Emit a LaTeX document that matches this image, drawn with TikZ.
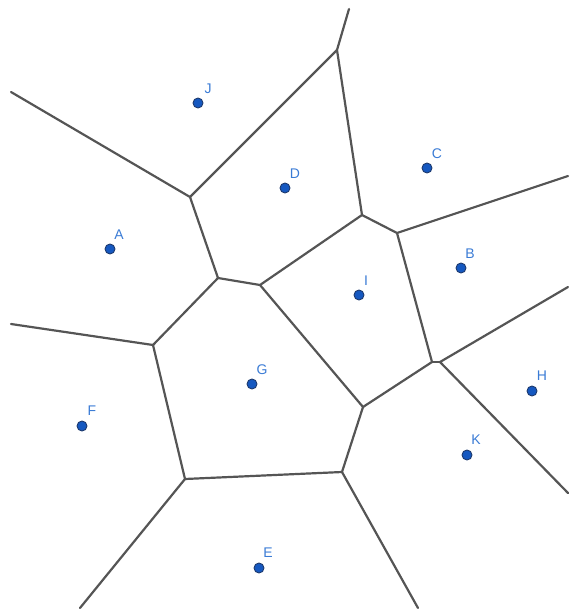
\documentclass[tikz,border=0pt]{standalone}
\usepackage{fontspec}
\setmainfont{Liberation Sans}
\definecolor{edgegray}{HTML}{555555}
\definecolor{dotblue}{HTML}{1558C0}
\definecolor{dotrim}{HTML}{1E3A6E}
\definecolor{lblblue}{HTML}{3A7BD5}
\tikzset{
  edge/.style={draw=edgegray, line width=2.2pt, line cap=round, line join=round},
  site/.style={circle, fill=dotblue, draw=dotrim, line width=0.9pt, inner sep=0pt, minimum size=10pt},
  lbl/.style={text=lblblue, font=\fontsize{14}{14}\selectfont, inner sep=0pt}
}
\begin{document}
\begin{tikzpicture}[x=1pt,y=-1pt]
\useasboundingbox (0,0) rectangle (570,610);
% Voronoi vertices
\coordinate (v1) at (349,9);
\coordinate (v2) at (337,50);
\coordinate (v3) at (190,197);
\coordinate (v4) at (11,92);
\coordinate (v5) at (218,278);
\coordinate (v6) at (260,285);
\coordinate (v7) at (362,215);
\coordinate (v8) at (397,233);
\coordinate (v9) at (568,176);
\coordinate (v10) at (153,345);
\coordinate (v11) at (11,324);
\coordinate (v12) at (432,362);
\coordinate (v13) at (440,362);
\coordinate (v14) at (568,287);
\coordinate (v15) at (568,493);
\coordinate (v16) at (363,407);
\coordinate (v17) at (342,472);
\coordinate (v18) at (185,479);
\coordinate (v19) at (80,608);
\coordinate (v20) at (418,608);
% edges
\draw[edge] (v1) -- (v2);
\draw[edge] (v2) -- (v3);
\draw[edge] (v4) -- (v3);
\draw[edge] (v3) -- (v5);
\draw[edge] (v2) -- (v7);
\draw[edge] (v7) -- (v6);
\draw[edge] (v7) -- (v8);
\draw[edge] (v8) -- (v9);
\draw[edge] (v5) -- (v6);
\draw[edge] (v5) -- (v10);
\draw[edge] (v10) -- (v11);
\draw[edge] (v6) -- (v16);
\draw[edge] (v8) -- (v12);
\draw[edge] (v12) -- (v16);
\draw[edge] (v12) -- (v13);
\draw[edge] (v13) -- (v14);
\draw[edge] (v13) -- (v15);
\draw[edge] (v10) -- (v18);
\draw[edge] (v16) -- (v17);
\draw[edge] (v17) -- (v18);
\draw[edge] (v18) -- (v19);
\draw[edge] (v17) -- (v20);
% sites
\node[site] (J) at (198,103) {};
\node[site] (D) at (285,188) {};
\node[site] (C) at (427,168) {};
\node[site] (A) at (110,249) {};
\node[site] (B) at (461,268) {};
\node[site] (I) at (359,295) {};
\node[site] (G) at (252,384) {};
\node[site] (H) at (532,391) {};
\node[site] (F) at (82,426) {};
\node[site] (K) at (467,455) {};
\node[site] (E) at (259,568) {};
% labels
\node[lbl] (Jl) at (208,89) {J};
\node[lbl] (Dl) at (295,174) {D};
\node[lbl] (Cl) at (437,154) {C};
\node[lbl] (Al) at (119,235) {A};
\node[lbl] (Bl) at (470,254) {B};
\node[lbl] (Il) at (366,281) {I};
\node[lbl] (Gl) at (262,370) {G};
\node[lbl] (Hl) at (542,376) {H};
\node[lbl] (Fl) at (92,411) {F};
\node[lbl] (Kl) at (476,440) {K};
\node[lbl] (El) at (268,553) {E};
\end{tikzpicture}
\end{document}
